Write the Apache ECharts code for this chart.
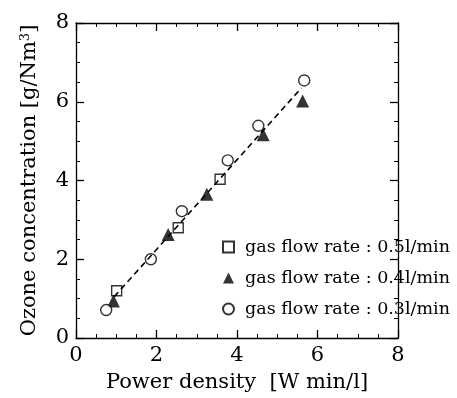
<!DOCTYPE html>
<html lang="en">
<head>
    <meta charset="UTF-8">
    <title>Ozone concentration</title>
    <script src="https://cdnjs.cloudflare.com/ajax/libs/echarts/6.0.0/echarts.min.js"></script>
    <style>
        body { margin: 0; background: #fff; }
        #main { width: 457px; height: 398px; }
    </style>
</head>
<body>
    <div id="main"></div>
    <script>
        // data: [power density, ozone concentration]
        const flow05 = [[1.01, 1.2], [2.54, 2.8], [3.58, 4.03]];
        const flow04 = [[0.93, 0.94], [2.29, 2.63], [3.25, 3.65], [4.65, 5.16], [5.63, 6.02]];
        const flow03 = [[0.75, 0.71], [1.86, 2.0], [2.63, 3.22], [3.77, 4.51], [4.53, 5.39], [5.67, 6.54]];
        const fitLine = [[0.95, 1.05], [5.6, 6.35]];
        const seriesNames = ['gas flow rate : 0.5l/min', 'gas flow rate : 0.4l/min', 'gas flow rate : 0.3l/min'];

        const font = 'DejaVu Serif';
        const myChart = echarts.init(document.getElementById('main'));

        function valueAxis(showLabels, extra) {
            return Object.assign({
                type: 'value', min: 0, max: 8, interval: 2,
                axisLine: { show: true, onZero: false, lineStyle: { color: '#000', width: 1.3 } },
                axisTick: { show: true, inside: true, length: 8, lineStyle: { color: '#000', width: 1.3 } },
                minorTick: { show: true, splitNumber: 4, length: 4, lineStyle: { color: '#000', width: 1 } },
                axisLabel: { show: showLabels, color: '#000', fontFamily: font, fontSize: 21, margin: 7 },
                splitLine: { show: false }
            }, extra);
        }

        const option = {
            animation: false,
            grid: { left: 76, right: 59, top: 23, bottom: 59 },
            xAxis: [
                valueAxis(true, {
                    position: 'bottom',
                    name: 'Power density  [W min/l]', nameLocation: 'middle', nameGap: 34,
                    nameTextStyle: { color: '#000', fontFamily: font, fontSize: 21 }
                }),
                valueAxis(false, { position: 'top' })
            ],
            yAxis: [
                valueAxis(true, {
                    position: 'left',
                    name: '{a|Ozone concentration [g/Nm}{s|3}{a|]}', nameLocation: 'middle', nameGap: 35,
                    nameTextStyle: {
                        rich: {
                            a: { color: '#000', fontFamily: font, fontSize: 21 },
                            s: { color: '#000', fontFamily: font, fontSize: 13, verticalAlign: 'top', padding: [0, 0, 9, 0] }
                        }
                    }
                }),
                valueAxis(false, { position: 'right' })
            ],
            legend: {
                orient: 'vertical', left: 217, top: 233,
                itemWidth: 11, itemHeight: 11, itemGap: 13,
                textStyle: { color: '#000', fontFamily: font, fontSize: 17.5, lineHeight: 18, padding: [0, 0, 0, 6] },
                data: [
                    { name: seriesNames[0], icon: 'rect' },
                    { name: seriesNames[1], icon: 'triangle' },
                    { name: seriesNames[2], icon: 'circle' }
                ]
            },
            series: [
                {
                    type: 'line', data: fitLine, symbol: 'none', silent: true,
                    lineStyle: { color: '#000', width: 1.6, type: [6, 4] }
                },
                {
                    name: seriesNames[0], type: 'scatter', data: flow05, symbol: 'rect', symbolSize: 10,
                    itemStyle: { color: '#fff', borderColor: '#000', borderWidth: 1.4 }
                },
                {
                    name: seriesNames[1], type: 'scatter', data: flow04, symbol: 'triangle', symbolSize: 13,
                    itemStyle: { color: '#000', borderColor: '#000', borderWidth: 0 }
                },
                {
                    name: seriesNames[2], type: 'scatter', data: flow03, symbol: 'circle', symbolSize: 11,
                    itemStyle: { color: '#fff', borderColor: '#000', borderWidth: 1.4 }
                }
            ]
        };

        myChart.setOption(option);
    </script>
</body>
</html>
